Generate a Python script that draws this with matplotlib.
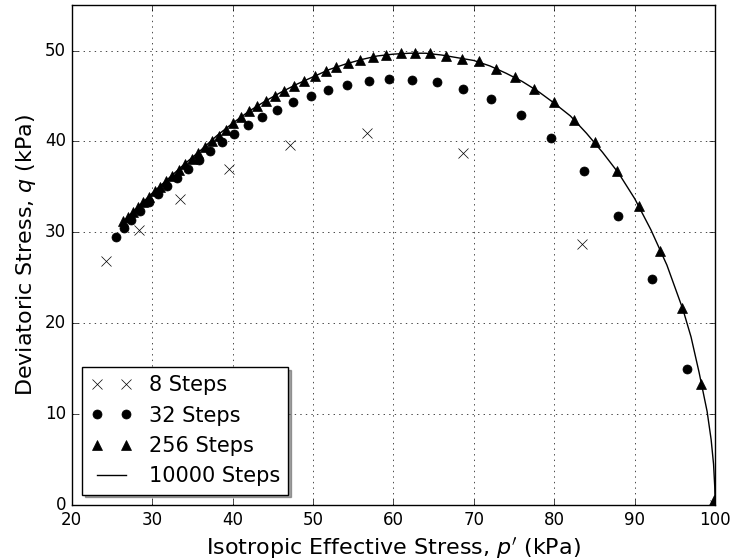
import matplotlib
matplotlib.use("Agg")
import matplotlib.pyplot as plt

plt.style.use("classic")
plt.rcParams["font.family"] = ["DejaVu Sans"]
plt.rcParams["mathtext.fontset"] = "dejavusans"

# 8 steps
p_8 = [24.2, 28.4, 33.4, 39.6, 47.1, 56.7, 68.6, 83.4, 100.0]
q_8 = [26.9, 30.3, 33.7, 37.0, 39.6, 40.9, 38.7, 28.7, 0.0]

# 32 steps
p_32 = [25.5, 26.5, 27.4, 28.5, 29.6, 30.7, 31.9, 33.1, 34.4, 35.8, 37.2,
        38.7, 40.2, 41.9, 43.7, 45.5, 47.5, 49.7, 51.9, 54.2, 56.9, 59.5,
        62.3, 65.4, 68.7, 72.1, 75.8, 79.6, 83.7, 87.9, 92.2, 96.5, 100.0]
q_32 = [29.5, 30.5, 31.4, 32.3, 33.3, 34.2, 35.1, 36.0, 37.0, 38.0, 38.9,
        39.9, 40.8, 41.8, 42.7, 43.5, 44.3, 45.0, 45.7, 46.2, 46.6, 46.9,
        46.8, 46.5, 45.8, 44.7, 42.9, 40.4, 36.7, 31.8, 24.9, 15.0, 0.0]

# 256 steps (plotted markers)
p_256 = [26.4, 27.0, 27.6, 28.2, 28.9, 29.6, 30.3, 31.0, 31.7, 32.5, 33.3,
         34.1, 34.9, 35.7, 36.6, 37.5, 38.3, 39.2, 40.0, 41.0, 42.0, 43.0,
         44.1, 45.3, 46.4, 47.6, 48.9, 50.2, 51.6, 52.9, 54.4, 55.9, 57.5,
         59.1, 60.9, 62.7, 64.5, 66.5, 68.5, 70.6, 72.8, 75.1, 77.5, 79.9,
         82.5, 85.05, 87.8, 90.5, 93.2, 95.9, 98.3, 99.9]
q_256 = [31.2, 31.7, 32.2, 32.8, 33.3, 33.9, 34.5, 35.0, 35.6, 36.2, 36.9,
         37.5, 38.1, 38.7, 39.4, 40.0, 40.6, 41.3, 42.0, 42.7, 43.3, 43.9,
         44.5, 45.0, 45.6, 46.1, 46.7, 47.2, 47.7, 48.2, 48.6, 49.0, 49.3,
         49.5, 49.7, 49.7, 49.7, 49.4, 49.1, 48.8, 48.0, 47.1, 45.8, 44.3,
         42.4, 39.9, 36.8, 32.9, 28.0, 21.7, 13.3, 0.6]

# 10000 steps (line)
p_10000 = [26.3, 28.0, 30.0, 32.0, 34.0, 36.0, 38.0, 40.0, 42.0, 44.0, 46.0,
           48.0, 50.0, 52.0, 54.0, 56.0, 58.0, 60.0, 62.0, 64.0, 66.0, 68.0,
           70.0, 72.0, 74.0, 76.0, 78.0, 80.0, 82.0, 84.0, 86.0, 88.0, 90.0,
           92.0, 94.0, 96.0, 97.0, 98.0, 99.0, 99.5, 99.8, 99.95, 100.0]
q_10000 = [31.1, 32.6, 34.3, 35.9, 37.5, 39.0, 40.6, 42.0, 43.3, 44.4, 45.4,
           46.3, 47.1, 47.9, 48.5, 49.0, 49.4, 49.6, 49.7, 49.7, 49.5, 49.2,
           48.9, 48.3, 47.5, 46.6, 45.5, 44.2, 42.8, 40.9, 38.8, 36.5, 33.7,
           30.3, 26.4, 21.5, 18.5, 14.6, 10.3, 7.2, 4.5, 2.0, 0.0]

fig = plt.figure(figsize=(7.32, 5.6), dpi=100)
fig.patch.set_facecolor("white")
ax = fig.add_axes([0.098, 0.098, 0.879, 0.893])

ax.plot(p_8, q_8, "x", color="k", mec="k", ms=6.5, label="8 Steps")
ax.plot(p_32, q_32, "o", color="k", mec="k", ms=6.5, label="32 Steps")
ax.plot(p_256, q_256, "^", color="k", mec="k", ms=6.5, label="256 Steps")
ax.plot(p_10000, q_10000, "-", color="k", lw=1, label="10000 Steps")

ax.set_xlim(20, 100)
ax.set_ylim(0, 55)
ax.set_xticks(range(20, 101, 10))
ax.set_yticks(range(0, 51, 10))
ax.tick_params(labelsize=12)
ax.grid(True, linestyle=":", color="k")

ax.set_xlabel("Isotropic Effective Stress, $p'$ (kPa)", fontsize=16)
ax.set_ylabel("Deviatoric Stress, $q$ (kPa)", fontsize=16)

ax.legend(loc="lower left", numpoints=2, shadow=True, fancybox=False,
          fontsize=15)

fig.savefig("out.png", dpi=100, facecolor="white")
